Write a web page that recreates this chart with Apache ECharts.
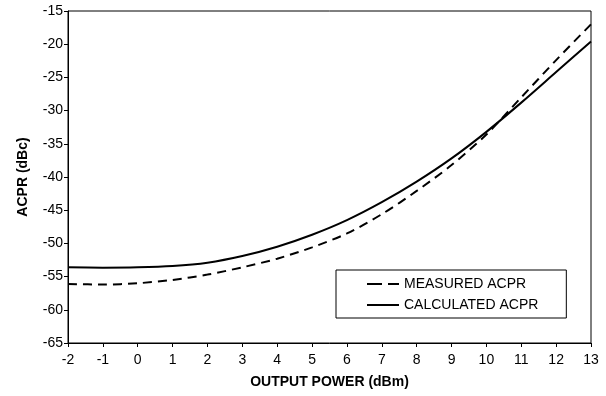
<!DOCTYPE html>
<html>
<head>
<meta charset="utf-8">
<script src="https://cdn.jsdelivr.net/npm/echarts@6/dist/echarts.min.js"></script>
<style>
  html, body { margin: 0; padding: 0; background: #fff; }
  #chart { width: 606px; height: 396px; }
</style>
</head>
<body>
<div id="chart"></div>
<script>
// output power (dBm)
const power = [-2, -1, 0, 1, 2, 3, 4, 5, 6, 7, 8, 9, 10, 11, 12, 13]
// ACPR values (dBc)
const measured = [-56.1, -56.2, -56.0, -55.5, -54.7, -53.6, -52.3, -50.6, -48.5, -45.6, -42.1, -38.2, -33.6, -28.0, -22.4, -17.0]
const calculated = [-53.6, -53.65, -53.6, -53.4, -52.9, -51.9, -50.5, -48.7, -46.5, -43.8, -40.7, -37.2, -33.2, -28.8, -24.2, -19.6]

const font = 'Liberation Sans, Arial, sans-serif'
const pair = (ys) => power.map((x, i) => [x, ys[i]])

// legend samples: two dashes for measured, one bar for calculated
const dashIcon = 'path://M0,0h15v2h-15z M21,0h11v2h-11z'
const solidIcon = 'path://M0,0h32v2h-32z'

const chart = echarts.init(document.getElementById('chart'))
chart.setOption({
  backgroundColor: '#fff',
  animation: false,
  textStyle: { fontFamily: font, color: '#000' },
  grid: {
    left: 68, right: 15, top: 11, bottom: 53,
    show: true, borderColor: '#000', borderWidth: 1,
  },
  legend: {
    orient: 'vertical',
    left: 336, top: 270,
    padding: [7, 28, 6, 31],
    itemGap: 7,
    itemWidth: 32, itemHeight: 2,
    backgroundColor: '#fff',
    borderColor: '#000', borderWidth: 1,
    textStyle: { fontFamily: font, fontSize: 14, color: '#000' },
    data: [
      { name: 'MEASURED ACPR', icon: dashIcon },
      { name: 'CALCULATED ACPR', icon: solidIcon },
    ],
  },
  xAxis: {
    type: 'value',
    min: -2, max: 13, interval: 1,
    name: 'OUTPUT POWER (dBm)',
    nameLocation: 'middle', nameGap: 32,
    nameTextStyle: { fontFamily: font, fontSize: 14, fontWeight: 'bold', color: '#000' },
    axisLine: { onZero: false, lineStyle: { color: '#000', width: 1 } },
    axisTick: { show: true, length: 4, lineStyle: { color: '#000' } },
    axisLabel: { fontFamily: font, fontSize: 14, color: '#000', margin: 10 },
    splitLine: { show: false },
  },
  yAxis: {
    type: 'value',
    min: -65, max: -15, interval: 5,
    name: 'ACPR (dBc)',
    nameLocation: 'middle', nameGap: 38,
    nameTextStyle: { fontFamily: font, fontSize: 14, fontWeight: 'bold', color: '#000' },
    axisLine: { show: true, onZero: false, lineStyle: { color: '#000', width: 1 } },
    axisTick: { show: true, length: 4, lineStyle: { color: '#000' } },
    axisLabel: { fontFamily: font, fontSize: 14, color: '#000', margin: 5 },
    splitLine: { show: false },
  },
  series: [
    {
      name: 'MEASURED ACPR',
      type: 'line',
      data: pair(measured),
      smooth: 0.3,
      symbol: 'none',
      lineStyle: { color: '#000', width: 2, type: [9, 6] },
      itemStyle: { color: '#000' },
    },
    {
      name: 'CALCULATED ACPR',
      type: 'line',
      data: pair(calculated),
      smooth: 0.3,
      symbol: 'none',
      lineStyle: { color: '#000', width: 2 },
      itemStyle: { color: '#000' },
    },
  ],
})
</script>
</body>
</html>
